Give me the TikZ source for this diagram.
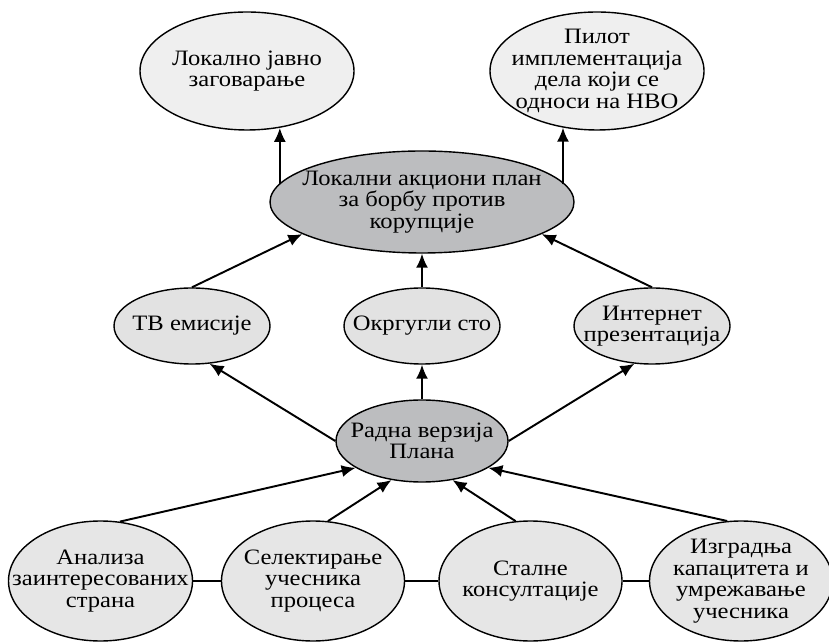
\documentclass[tikz,border=0pt]{standalone}
\usepackage{fontspec}
\setmainfont{Liberation Serif}[FakeStretch=1.12]
\usepackage[dvipsnames]{xcolor}
\usepackage{tikz}
\usetikzlibrary{shapes.geometric}
\usetikzlibrary{arrows.meta}
\definecolor{topgray}{HTML}{EFEFEF}
\definecolor{midgray}{HTML}{E2E2E2}
\definecolor{lowgray}{HTML}{E6E6E6}
\definecolor{darkgray}{HTML}{BCBDBF}
\tikzset{
    >={Latex[length=2.8mm,width=2.4mm]},
    bubble/.style={shape=ellipse, draw=black, line width=0.8pt, inner sep=0pt},
    every label/.style={align=center, inner sep=0pt, font=\fontsize{12.5}{12.3}\selectfont},
    link/.style={line width=1.1pt}}

\begin{document}
\begin{tikzpicture}

                    \clip (0,0) rectangle (16.58,12.82);

                    \node[bubble, fill=topgray, minimum width=4.28cm, minimum height=2.36cm, label=center:{Локално јавно\\заговарање}] (Zag) at (4.94,11.40) {};
                    \node[bubble, fill=topgray, minimum width=4.28cm, minimum height=2.36cm, label=center:{Пилот\\имплементација\\дела који се\\односи на НВО}] (Pilot) at (11.94,11.40) {};
                    \node[bubble, fill=darkgray, minimum width=6.08cm, minimum height=2.04cm, label=center:{Локални акциони план\\за борбу против\\корупције}] (Lap) at (8.44,8.78) {};

                    \node[bubble, fill=midgray, minimum width=3.12cm, minimum height=1.52cm, label=center:{ТВ емисије}] (Tv) at (3.84,6.30) {};
                    \node[bubble, fill=midgray, minimum width=3.12cm, minimum height=1.52cm, label=center:{Окргугли сто}] (Okr) at (8.44,6.30) {};
                    \node[bubble, fill=midgray, minimum width=3.12cm, minimum height=1.52cm, label=center:{Интернет\\презентација}] (Inet) at (13.04,6.30) {};

                    \node[bubble, fill=darkgray, minimum width=3.44cm, minimum height=1.64cm, label=center:{Радна верзија\\Плана}] (Radna) at (8.44,4.00) {};

                    \node[bubble, fill=lowgray, minimum width=3.68cm, minimum height=2.40cm, label=center:{Анализа\\заинтересованих\\страна}] (Ana) at (2.01,1.20) {};
                    \node[bubble, fill=lowgray, minimum width=3.66cm, minimum height=2.40cm, label=center:{Селектирање\\учесника\\процеса}] (Sel) at (6.26,1.20) {};
                    \node[bubble, fill=lowgray, minimum width=3.66cm, minimum height=2.40cm, label=center:{Сталне\\консултације}] (Sta) at (10.61,1.20) {};
                    \node[bubble, fill=lowgray, minimum width=3.66cm, minimum height=2.40cm, label=center:{Изградња\\капацитета и\\умрежавање\\учесника}] (Izg) at (14.82,1.20) {};

                    % plan -> top row
                    \draw[link, ->] (Zag.300 |- Lap.173) -- (Zag.300);
                    \draw[link, ->] (Pilot.239 |- Lap.7) -- (Pilot.239);

                    % activities -> plan
                    \draw[link, ->] (Tv.north) -- (Lap.195);
                    \draw[link, ->] (Okr.north) -- (Lap.south);
                    \draw[link, ->] (Inet.north) -- (Lap.345);

                    % draft -> activities
                    \draw[link, ->] (Radna.west) -- (Tv.295);
                    \draw[link, ->] (Radna.north) -- (Okr.south);
                    \draw[link, ->] (Radna.east) -- (Inet.245);

                    % bottom row -> draft
                    \draw[link, ->] (Ana.72) -- (Radna.202);
                    \draw[link, ->] (Sel.76) -- (Radna.232);
                    \draw[link, ->] (Sta.104) -- (Radna.308);
                    \draw[link, ->] (Izg.103) -- (Radna.338);

                    \draw[link] (Ana.east) -- (Sel.west);
                    \draw[link] (Sel.east) -- (Sta.west);
                    \draw[link] (Sta.east) -- (Izg.west);

                \end{tikzpicture}
\end{document}
